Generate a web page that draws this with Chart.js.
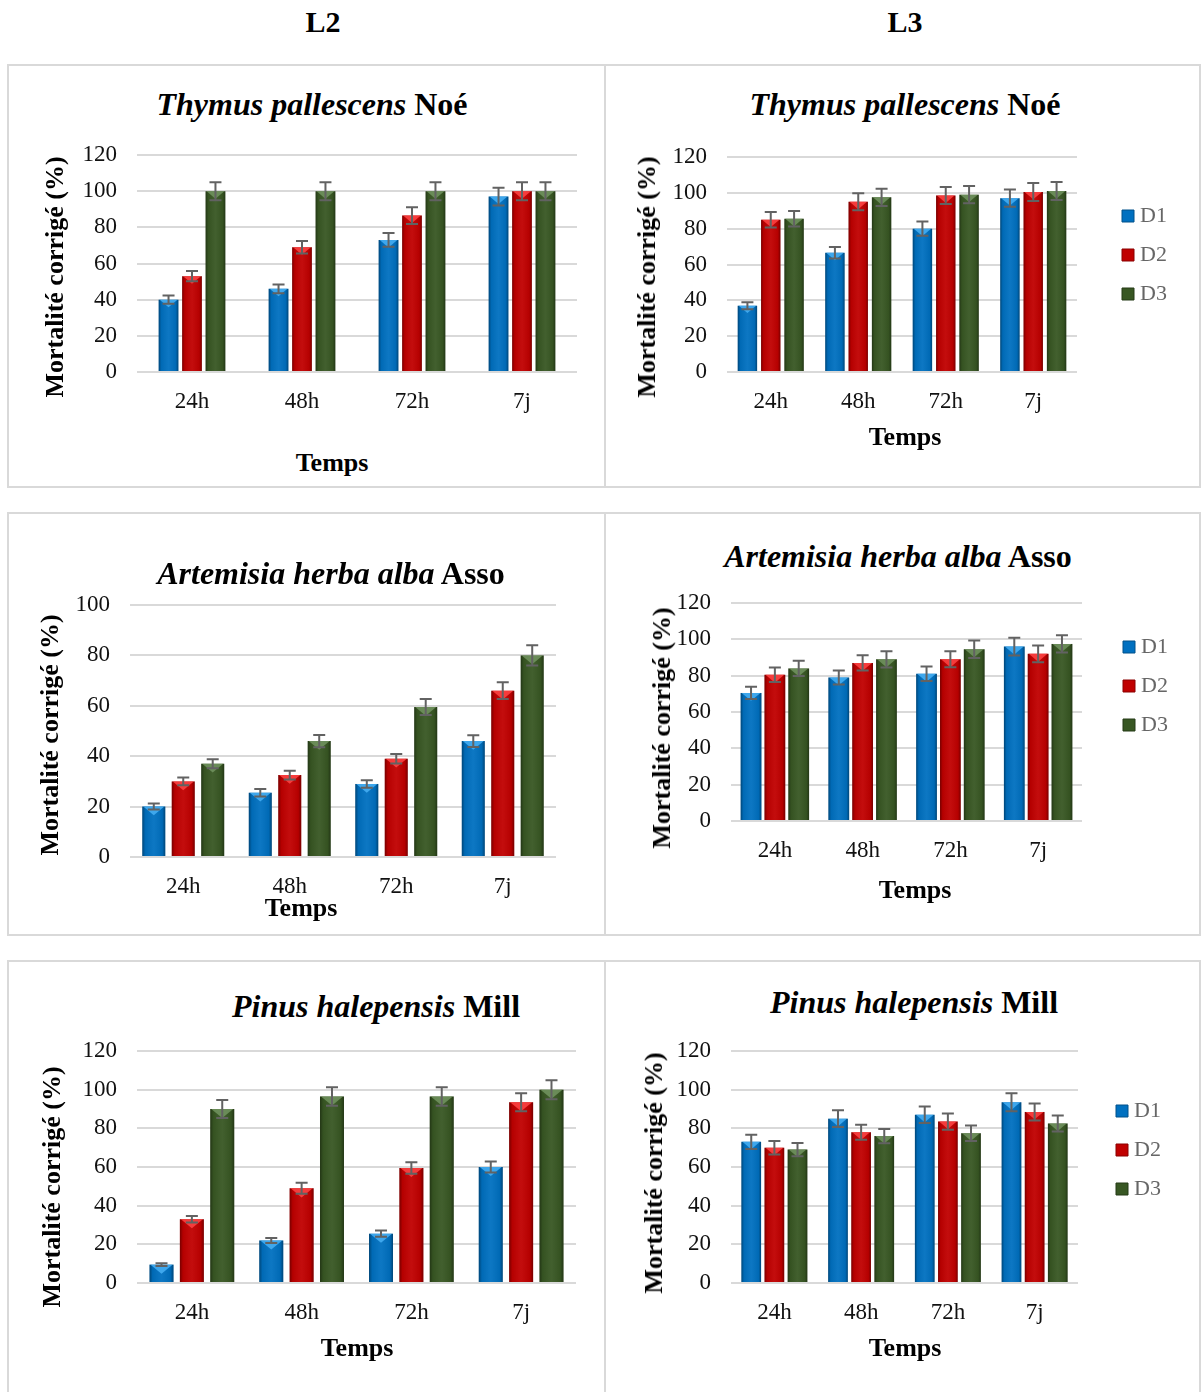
<!DOCTYPE html>
<html>
<head>
<meta charset="utf-8">
<script src="https://cdn.jsdelivr.net/npm/chart.js@4.4.1/dist/chart.umd.min.js"></script>
<style>
html,body{margin:0;padding:0;background:#fff;}
body{width:1201px;height:1392px;position:relative;overflow:hidden;font-family:'Liberation Serif','Times New Roman',serif;}
.row{position:absolute;left:7px;width:1194px;border:2px solid #d9d9d9;box-sizing:border-box;}
.div{position:absolute;left:604px;width:2px;background:#d9d9d9;}
.t{position:absolute;transform:translateX(-50%);white-space:nowrap;line-height:1;font-weight:bold;color:#000;}
.r{position:absolute;transform:translate(-50%,-50%) rotate(-90deg);white-space:nowrap;line-height:1;font-weight:bold;color:#000;}
canvas{position:absolute;}
</style>
</head>
<body>
<div class="row" style="top:64px;height:424px"></div>
<div class="div" style="top:64px;height:424px"></div>
<div class="row" style="top:512px;height:424px"></div>
<div class="div" style="top:512px;height:424px"></div>
<div class="row" style="top:960px;height:440px"></div>
<div class="div" style="top:960px;height:440px"></div>
<script>
// ---------- DATA ----------
const times = ['24h', '48h', '72h', '7j'];
const doses = ['D1', 'D2', 'D3'];

// L2 – Thymus pallescens
const l2ThymusD1 = [40, 46, 73, 97];
const l2ThymusD2 = [53, 69, 86.5, 100];
const l2ThymusD3 = [100, 100, 100, 100];
const l2ThymusErrD1 = [2.3, 2.4, 3.8, 4.9];
const l2ThymusErrD2 = [2.8, 3.5, 4.6, 5];
const l2ThymusErrD3 = [5, 5, 5, 5];

// L3 – Thymus pallescens
const l3ThymusD1 = [37, 66.5, 80, 97];
const l3ThymusD2 = [85, 95, 98.5, 100.5];
const l3ThymusD3 = [85.5, 97.5, 99, 101];
const l3ThymusErrD1 = [2, 3.2, 4, 4.8];
const l3ThymusErrD2 = [4.3, 4.7, 4.8, 5];
const l3ThymusErrD3 = [4.3, 4.8, 4.8, 5];

// L2 – Artemisia herba alba
const l2ArtemisiaD1 = [20, 25.5, 29, 46];
const l2ArtemisiaD2 = [30, 32.5, 39, 66];
const l2ArtemisiaD3 = [37, 46, 59.5, 80];
const l2ArtemisiaErrD1 = [1.2, 1.5, 1.5, 2.3];
const l2ArtemisiaErrD2 = [1.5, 1.7, 1.9, 3.3];
const l2ArtemisiaErrD3 = [1.8, 2.4, 3.2, 4];

// L3 – Artemisia herba alba
const l3ArtemisiaD1 = [70.5, 79, 81, 96];
const l3ArtemisiaD2 = [80.5, 87, 89, 92];
const l3ArtemisiaD3 = [84, 89, 94.5, 97.5];
const l3ArtemisiaErrD1 = [3.4, 3.9, 4, 4.9];
const l3ArtemisiaErrD2 = [4, 4.2, 4.4, 4.6];
const l3ArtemisiaErrD3 = [4.2, 4.5, 4.8, 4.8];

// L2 – Pinus halepensis
const l2PinusD1 = [9.5, 22, 25.5, 60];
const l2PinusD2 = [33, 49, 59.5, 93.5];
const l2PinusD3 = [90, 96.5, 96.5, 100];
const l2PinusErrD1 = [0.7, 1.3, 1.6, 2.9];
const l2PinusErrD2 = [1.7, 2.8, 3, 4.6];
const l2PinusErrD3 = [4.7, 4.8, 4.8, 4.9];

// L3 – Pinus halepensis
const l3PinusD1 = [73, 85, 87, 93.5];
const l3PinusD2 = [70, 78, 83.5, 88.5];
const l3PinusD3 = [69, 76, 77.5, 82.5];
const l3PinusErrD1 = [3.7, 4.3, 4.3, 4.7];
const l3PinusErrD2 = [3.5, 3.9, 4.2, 4.4];
const l3PinusErrD3 = [3.4, 3.7, 4, 4.1];

const yMax120 = 120;
const yMax100 = 100;
const yStep = 20;

// ---------- STYLE ----------
const FONT = "'Liberation Serif', 'Times New Roman', serif";
const FILL = ['#0070C0', '#C00000', '#385723'];
const HIGH = ['#48B0F4', '#FF4545', '#729460'];
const DARK = ['#00508A', '#8A0000', '#243A16'];

// ---------- TEXT ----------
function addText(html, cx, baseline, size) {
  const d = document.createElement('div');
  d.className = 't';
  d.innerHTML = html;
  d.style.fontSize = size + 'px';
  d.style.left = cx + 'px';
  d.style.top = (baseline - 0.8375 * size) + 'px';
  document.body.appendChild(d);
}
function addRot(text, cx, cy, size) {
  const d = document.createElement('div');
  d.className = 'r';
  d.textContent = text;
  d.style.fontSize = size + 'px';
  d.style.left = cx + 'px';
  d.style.top = cy + 'px';
  document.body.appendChild(d);
}

addText('L2', 323, 32, 30);
addText('L3', 905, 32, 30);

// ---------- PLUGIN: bar shading + error bars ----------
const decoPlugin = {
  id: 'deco',
  afterDatasetsDraw(chart) {
    const ctx = chart.ctx;
    const ys = chart.scales.y;
    ctx.save();
    chart.data.datasets.forEach((ds, di) => {
      chart.getDatasetMeta(di).data.forEach((el) => {
        const {x, y, base, width} = el.getProps(['x', 'y', 'base', 'width'], true);
        const l = x - width / 2, r = x + width / 2, h = base - y;
        const g = ctx.createLinearGradient(l, 0, r, 0);
        g.addColorStop(0, 'rgba(0,0,0,0.38)');
        g.addColorStop(0.13, 'rgba(0,0,0,0.06)');
        g.addColorStop(0.5, 'rgba(255,255,255,0.05)');
        g.addColorStop(0.87, 'rgba(0,0,0,0.06)');
        g.addColorStop(1, 'rgba(0,0,0,0.38)');
        ctx.fillStyle = g;
        ctx.fillRect(l, y, width, h);
        ctx.beginPath();
        ctx.moveTo(l + 1, y);
        ctx.lineTo(r - 1, y);
        ctx.lineTo(x, y + Math.min(width * 0.38, h));
        ctx.closePath();
        ctx.fillStyle = HIGH[di];
        ctx.globalAlpha = 0.85;
        ctx.fill();
        ctx.globalAlpha = 1;
      });
    });
    ctx.strokeStyle = '#626262';
    ctx.lineWidth = 2;
    chart.data.datasets.forEach((ds, di) => {
      chart.getDatasetMeta(di).data.forEach((el, j) => {
        const x = el.getProps(['x'], true).x;
        const v = ds.data[j], e = ds.errors[j];
        const p1 = ys.getPixelForValue(v + e), p2 = ys.getPixelForValue(v - e);
        ctx.beginPath();
        ctx.moveTo(x, p1); ctx.lineTo(x, p2);
        ctx.moveTo(x - 6, p1); ctx.lineTo(x + 6, p1);
        ctx.moveTo(x - 6, p2); ctx.lineTo(x + 6, p2);
        ctx.stroke();
      });
    });
    ctx.restore();
  }
};

// ---------- CHART BUILDER ----------
function makeChart(cfg) {
  const cv = document.createElement('canvas');
  cv.width = cfg.cw; cv.height = cfg.ch;
  cv.style.left = cfg.cx + 'px'; cv.style.top = cfg.cy + 'px';
  cv.style.width = cfg.cw + 'px'; cv.style.height = cfg.ch + 'px';
  document.body.appendChild(cv);

  const tR = cfg.R - cfg.cx, tT = cfg.T - cfg.cy;
  const tLegY = cfg.legend ? cfg.legY - cfg.cy : 0;
  const tBoxLeft = cfg.legend ? cfg.boxLeft - cfg.cx + 5 : 0;

  const padding = {top: tT, right: cfg.legend ? 20 : (cfg.cw - tR), left: 0, bottom: 0};
  const legendTitlePad = {top: 30, bottom: 0};
  const state = {gap: cfg.legend ? cfg.boxLeft - cfg.R - 18 : 0};

  const scales = {
    x: {
      grid: {display: false}, border: {display: false},
      ticks: {font: {family: FONT, size: 23}, color: '#111', padding: 8},
      afterFit(s) { s.height = cfg.cy + cfg.ch - cfg.B; }
    },
    y: {
      min: 0, max: cfg.max,
      ticks: {stepSize: yStep, font: {family: FONT, size: 23}, color: '#111', padding: 0},
      grid: {color: '#d9d9d9', lineWidth: 2, drawTicks: true, tickLength: 20, tickColor: 'rgba(0,0,0,0)'},
      border: {display: false},
      afterFit(s) { s.width = cfg.L - cfg.cx; }
    }
  };
  if (cfg.legend) {
    scales.pad = {
      type: 'linear', position: 'right', display: true,
      grid: {display: false}, border: {display: false}, ticks: {display: false},
      afterFit(s) { s.width = Math.max(0, state.gap); }
    };
  }

  const options = {
    responsive: false, animation: false, events: [],
    layout: {padding: padding},
    scales: scales,
    plugins: {
      tooltip: {enabled: false},
      legend: cfg.legend ? {
        display: true, position: 'right', align: 'start', fullSize: false,
        title: {display: true, text: '', font: {size: 1, lineHeight: 1}, padding: legendTitlePad},
        labels: {
          font: {family: FONT, size: 22}, color: '#595959', usePointStyle: true, boxWidth: 2, boxHeight: 12, padding: 17,
          generateLabels: (ch) => ch.data.datasets.map((ds, i) => ({
            text: ds.label, fillStyle: FILL[i], strokeStyle: DARK[i], lineWidth: 1,
            pointStyle: 'rect', rotation: 0, hidden: false, datasetIndex: i
          }))
        }
      } : {display: false}
    }
  };

  const chart = new Chart(cv, {
    type: 'bar',
    data: {
      labels: times,
      datasets: doses.map((d, i) => ({
        label: d, data: cfg.values[i], errors: cfg.errors[i],
        backgroundColor: FILL[i], borderWidth: 0,
        categoryPercentage: cfg.cat, barPercentage: cfg.bar
      }))
    },
    options: options,
    plugins: [decoPlugin]
  });

  // align the layout with the reference frame (plot area / legend position)
  for (let k = 0; k < 6; k++) {
    const ca = chart.chartArea;
    const yTop = chart.scales.y.getPixelForValue(cfg.max);
    const e1 = ca.right - tR;
    padding.top = Math.max(0, padding.top + (tT - yTop));
    if (cfg.legend && chart.legend && chart.legend.legendHitBoxes && chart.legend.legendHitBoxes.length) {
      const hb = chart.legend.legendHitBoxes[0];
      const e2 = hb.left - tBoxLeft;
      padding.right = Math.max(0, padding.right + e2);
      state.gap = Math.max(0, state.gap + (e1 - e2));
      legendTitlePad.top = Math.max(0, legendTitlePad.top + (tLegY - (hb.top + hb.height / 2)));
    } else {
      padding.right = Math.max(0, padding.right + e1);
    }
    chart.update('none');
  }
  return chart;
}

function safe(cfg) { try { makeChart(cfg); } catch (e) { console.error(e); } }

// ---------- CHARTS ----------
safe({cx: 9, cy: 130, cw: 595, ch: 302, L: 137, R: 577, T: 155, B: 372, max: yMax120, cat: 0.64, bar: 0.84,
  values: [l2ThymusD1, l2ThymusD2, l2ThymusD3], errors: [l2ThymusErrD1, l2ThymusErrD2, l2ThymusErrD3]});
safe({cx: 606, cy: 132, cw: 593, ch: 300, L: 727, R: 1077, T: 157, B: 372, max: yMax120, cat: 0.80, bar: 0.83,
  legend: true, legY: 216, boxLeft: 1122,
  values: [l3ThymusD1, l3ThymusD2, l3ThymusD3], errors: [l3ThymusErrD1, l3ThymusErrD2, l3ThymusErrD3]});
safe({cx: 9, cy: 580, cw: 595, ch: 337, L: 130, R: 556, T: 605, B: 857, max: yMax100, cat: 0.83, bar: 0.78,
  values: [l2ArtemisiaD1, l2ArtemisiaD2, l2ArtemisiaD3], errors: [l2ArtemisiaErrD1, l2ArtemisiaErrD2, l2ArtemisiaErrD3]});
safe({cx: 606, cy: 578, cw: 593, ch: 303, L: 731, R: 1082, T: 603, B: 821, max: yMax120, cat: 0.815, bar: 0.87,
  legend: true, legY: 647, boxLeft: 1123,
  values: [l3ArtemisiaD1, l3ArtemisiaD2, l3ArtemisiaD3], errors: [l3ArtemisiaErrD1, l3ArtemisiaErrD2, l3ArtemisiaErrD3]});
safe({cx: 9, cy: 1026, cw: 595, ch: 317, L: 137, R: 576, T: 1051, B: 1283, max: yMax120, cat: 0.83, bar: 0.79,
  values: [l2PinusD1, l2PinusD2, l2PinusD3], errors: [l2PinusErrD1, l2PinusErrD2, l2PinusErrD3]});
safe({cx: 606, cy: 1026, cw: 593, ch: 317, L: 731, R: 1078, T: 1051, B: 1283, max: yMax120, cat: 0.80, bar: 0.85,
  legend: true, legY: 1111, boxLeft: 1116,
  values: [l3PinusD1, l3PinusD2, l3PinusD3], errors: [l3PinusErrD1, l3PinusErrD2, l3PinusErrD3]});

// ---------- TITLES ----------
addText('<i>Thymus pallescens</i> Noé', 312, 115, 32);
addText('<i>Thymus pallescens</i> Noé', 905, 115, 32);
addText('<i>Artemisia herba alba</i> Asso', 331, 584, 32);
addText('<i>Artemisia herba alba</i> Asso', 898, 567, 32);
addText('<i>Pinus halepensis</i> Mill', 376, 1017, 32);
addText('<i>Pinus halepensis</i> Mill', 914, 1013, 32);

addText('Temps', 332, 472, 26);
addText('Temps', 905, 446, 26);
addText('Temps', 301, 917, 26);
addText('Temps', 915, 899, 26);
addText('Temps', 357, 1357, 26);
addText('Temps', 905, 1357, 26);

const yTitle = 'Mortalité corrigé (%)';
addRot(yTitle, 55, 277, 26);
addRot(yTitle, 647, 277, 26);
addRot(yTitle, 50, 735, 26);
addRot(yTitle, 662, 728, 26);
addRot(yTitle, 52, 1187, 26);
addRot(yTitle, 654, 1173, 26);
</script>
</body>
</html>
